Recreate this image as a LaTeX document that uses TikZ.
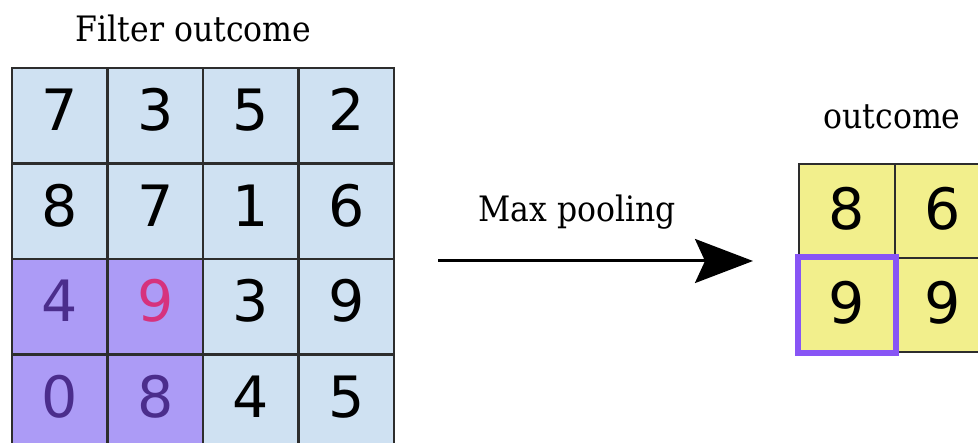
\documentclass[tikz,border=0pt]{standalone}
\usepackage{fontspec}
\setmainfont{DejaVu Serif}[FakeStretch=0.9]
\newfontfamily\digitfont{DejaVu Sans}
\usetikzlibrary{arrows.meta}

\definecolor{cellblue}{RGB}{207,225,242}
\definecolor{poolfill}{RGB}{172,155,246}
\definecolor{pooltext}{RGB}{75,45,140}
\definecolor{maxpink}{RGB}{214,50,125}
\definecolor{outyellow}{RGB}{242,239,140}
\definecolor{hlpurple}{RGB}{136,85,245}
\definecolor{gridline}{RGB}{45,45,45}

\tikzset{
  cell/.style={draw=gridline, line width=2.2pt, rectangle, inner sep=0pt,
    minimum width=95.5pt, minimum height=95.5pt,
    text height=30pt, text depth=0pt,
    font=\digitfont\fontsize{57}{60}\selectfont},
  incell/.style={cell, fill=cellblue},
  poolcell/.style={cell, fill=poolfill, text=pooltext},
  outcell/.style={cell, line width=1.5pt, fill=outyellow,
    minimum width=96pt, minimum height=94pt, text height=38pt},
  title/.style={anchor=base, inner sep=0pt, font=\fontsize{35}{40}\selectfont},
  highlight/.style={draw=hlpurple, line width=6pt},
  flow/.style={line width=3pt, -{Stealth[length=58pt, width=44pt, inset=10pt]}}
}

\begin{document}
\begin{tikzpicture}[x=1pt, y=1pt]
  \useasboundingbox (0,0) rectangle (978,443);
  \clip (0,0) rectangle (978,443);

  % feature map after the filter (4 x 4); the pooled window is the lower-left 2 x 2
  \foreach \row/\vals in {1/{7,3,5,2}, 2/{8,7,1,6}, 3/{4,9,3,9}, 4/{0,8,4,5}} {
    \foreach \v [count=\col] in \vals {
      \pgfmathsetmacro{\cx}{12 + 95.5*(\col - 0.5)}
      \pgfmathsetmacro{\cy}{443 - (68 + 95.5*(\row - 0.5))}
      \pgfmathtruncatemacro{\inpool}{(\row > 2) && (\col < 3) ? 1 : 0}
      \pgfmathtruncatemacro{\ismax}{(\row == 3) && (\col == 2) ? 1 : 0}
      \ifnum\ismax=1
        \node[poolcell, text=maxpink] (c-\row-\col) at (\cx, \cy) {\v};
      \else\ifnum\inpool=1
        \node[poolcell] (c-\row-\col) at (\cx, \cy) {\v};
      \else
        \node[incell] (c-\row-\col) at (\cx, \cy) {\v};
      \fi\fi
    }
  }

  \node[title] (filtertitle) at (193.5, 443-42) {Filter outcome};

  % pooled result (2 x 2)
  \foreach \row/\vals in {1/{8,6}, 2/{9,9}} {
    \foreach \v [count=\col] in \vals {
      \pgfmathsetmacro{\cx}{799 + 96*(\col - 0.5)}
      \pgfmathsetmacro{\cy}{443 - (164 + 94*(\row - 0.5))}
      \node[outcell] (o-\row-\col) at (\cx, \cy) {\v};
    }
  }
  \draw[highlight] (o-2-1.north west) rectangle (o-2-1.south east);

  \node[title] (outtitle) at (892, 443-129) {outcome};

  % pooling step
  \coordinate (flowstart) at (438, 443-261);
  \coordinate (flowend) at (753, 443-261);
  \draw[flow] (flowstart) -- (flowend);
  \node[title] (flowlabel) at (577, 443-222) {Max pooling};
\end{tikzpicture}
\end{document}
